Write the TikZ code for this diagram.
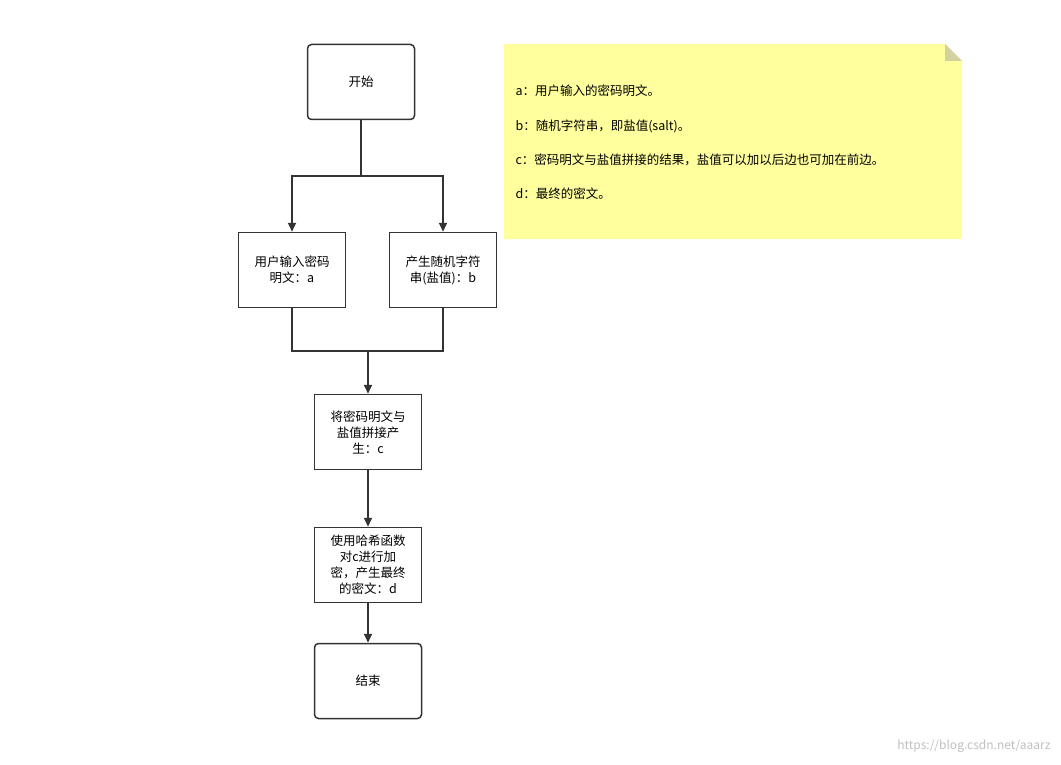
\documentclass[tikz,border=0pt]{standalone}
\usepackage{fontspec}
\setmainfont{Noto Sans CJK SC}
\usetikzlibrary{arrows.meta}
\definecolor{notey}{RGB}{255,255,158}
\definecolor{notefold}{RGB}{210,210,160}
\begin{document}
\begin{tikzpicture}[x=1pt,y=-1pt,
  box/.style={draw=black!80,line width=1.5pt,minimum width=107pt,minimum height=75pt,align=center,font=\fontsize{12.5}{16}\selectfont,inner sep=2pt},
  rbox/.style={box,rounded corners=4pt},
  conn/.style={draw=black!80,line width=1.7pt},
  arr/.style={conn,-{Triangle[length=9pt,width=8pt]}},
  note/.style={font=\fontsize{12.5}{16}\selectfont,anchor=west}]
\useasboundingbox (0,0) rectangle (1061,765);
\node[rbox] (start) at (361,82) {开始};
\node[box] (a) at (292,270) {用户输入密码\\明文：a};
\node[box] (b) at (443,270) {产生随机字符\\串(盐值)：b};
\node[box] (c) at (368,432) {将密码明文与\\盐值拼接产\\生：c};
\node[box,text width=100pt] (d) at (368,565) {使用哈希函数\\对c进行加\\密，产生最终\\的密文：d};
\node[rbox] (e) at (368,681) {结束};
\coordinate (s1) at (361,176);
\coordinate (j1) at (368,351);
\draw[conn] (start.south) -- (s1);
\draw[arr] (s1) -| (a.north);
\draw[arr] (s1) -| (b.north);
\draw[conn] (a.south) |- (j1);
\draw[conn] (b.south) |- (j1);
\draw[arr] (j1) -- (c.north);
\draw[arr] (c) -- (d);
\draw[arr] (d) -- (e);
\fill[notey] (504,44) -- (945,44) -- (962,61) -- (962,239) -- (504,239) -- cycle;
\fill[notefold] (945,44) -- (945,61) -- (962,61) -- cycle;
\node[note] (n1) at (512,91) {a：用户输入的密码明文。};
\node[note] (n2) at (512,126) {b：随机字符串，即盐值(salt)。};
\node[note] (n3) at (512,160) {c：密码明文与盐值拼接的结果，盐值可以加以后边也可加在前边。};
\node[note] (n4) at (512,194) {d：最终的密文。};
\node[anchor=east,text=black!25,font=\fontsize{12}{14}\selectfont] (wm) at (1054,746) {https://blog.csdn.net/aaarz};
\end{tikzpicture}
\end{document}
